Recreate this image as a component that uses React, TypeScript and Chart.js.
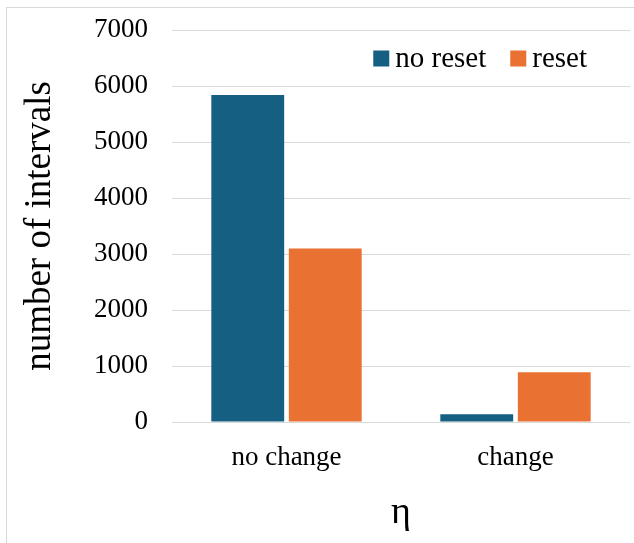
import React, { useEffect, useRef } from 'react';
import { Chart, registerables } from 'chart.js';

Chart.register(...registerables);

const categories = ['no change', 'change'];
const seriesLabels = ['no reset', 'reset'];
const noResetValues = [5840, 140];
const resetValues = [3100, 890];
const yMin = 0;
const yMax = 7000;
const yStep = 1000;
const yAxisTitle = 'number of intervals';
const xAxisTitle = 'η';

const FONT = '"Liberation Serif", "Times New Roman", serif';
const BLUE = '#156082';
const ORANGE = '#E97132';
const GRID = '#d9d9d9';

const legendPlugin = {
  id: 'topRightLegend',
  afterDraw(chart: any) {
    const { ctx, chartArea } = chart;
    ctx.save();
    ctx.font = `29px ${FONT}`;
    const box = 16;
    const gap = 6;
    const itemGap = 24;
    const items = chart.data.datasets.map((ds: any) => ({
      label: ds.label,
      color: ds.backgroundColor,
      w: ctx.measureText(ds.label).width,
    }));
    const total = items.reduce(
      (s: number, it: any, i: number) => s + box + gap + it.w + (i ? itemGap : 0),
      0
    );
    let x = chartArea.right - 43 - total;
    const baseline = chartArea.top + 36.5;
    ctx.textBaseline = 'alphabetic';
    ctx.textAlign = 'left';
    items.forEach((it: any) => {
      ctx.fillStyle = it.color;
      ctx.fillRect(x, baseline - box, box, box);
      x += box + gap;
      ctx.fillStyle = '#000';
      ctx.fillText(it.label, x, baseline);
      x += it.w + itemGap;
    });
    ctx.restore();
  },
};

export default function App() {
  const canvasRef = useRef<HTMLCanvasElement | null>(null);

  useEffect(() => {
    if (!canvasRef.current) return;
    const chart = new Chart(canvasRef.current, {
      type: 'bar',
      data: {
        labels: categories,
        datasets: [
          {
            label: seriesLabels[0],
            data: noResetValues,
            backgroundColor: BLUE,
            categoryPercentage: 0.677,
            barPercentage: 0.94,
          },
          {
            label: seriesLabels[1],
            data: resetValues,
            backgroundColor: ORANGE,
            categoryPercentage: 0.677,
            barPercentage: 0.94,
          },
        ],
      },
      options: {
        responsive: false,
        animation: false,
        layout: { padding: { left: 0, right: 4, top: 30, bottom: 0 } },
        plugins: {
          legend: { display: false },
          tooltip: { enabled: false },
        },
        scales: {
          x: {
            grid: { display: false },
            border: { display: false },
            ticks: {
              font: { family: FONT, size: 27 },
              color: '#000',
              padding: 12,
            },
            title: {
              display: true,
              text: xAxisTitle,
              font: { family: FONT, size: 38 },
              color: '#000',
              padding: { top: 0, bottom: 7 },
            },
            afterFit: (scale: any) => {
              scale.height = 121;
            },
          },
          y: {
            min: yMin,
            max: yMax,
            ticks: {
              stepSize: yStep,
              font: { family: FONT, size: 27 },
              color: '#000',
              padding: 24,
              callback: (v: any) => String(v),
            },
            grid: { color: GRID, lineWidth: 1, drawTicks: false },
            border: { display: false },
            title: {
              display: true,
              text: yAxisTitle,
              font: { family: FONT, size: 37 },
              color: '#000',
              padding: { top: 18, bottom: 0 },
            },
            afterFit: (scale: any) => {
              scale.width = 172;
              scale.paddingTop = 0;
              scale.paddingBottom = 0;
            },
          },
        },
      },
      plugins: [legendPlugin],
    });
    return () => chart.destroy();
  }, []);

  return (
    <div
      style={{
        position: 'fixed',
        left: 0,
        top: 0,
        width: 634,
        height: 543,
        overflow: 'hidden',
        background: '#fff',
      }}
    >
      <div
        style={{
          position: 'absolute',
          left: 6,
          top: 7,
          width: 700,
          height: 600,
          border: `1px solid ${GRID}`,
          boxSizing: 'border-box',
        }}
      />
      <canvas
        ref={canvasRef}
        width={634}
        height={543}
        style={{ position: 'absolute', left: 0, top: 0, display: 'block' }}
      />
    </div>
  );
}
